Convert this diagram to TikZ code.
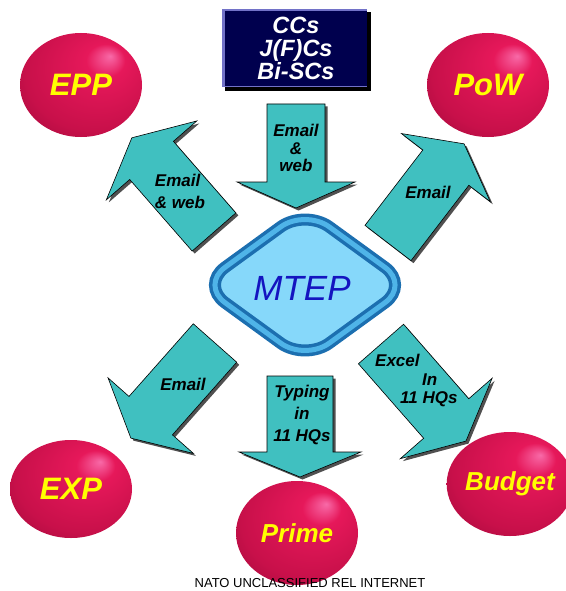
\documentclass[tikz,border=0pt]{standalone}
\usepackage{fontspec}
\setmainfont{Liberation Sans}
\usetikzlibrary{shapes.geometric,calc}
\definecolor{arrteal}{HTML}{40C0C0}
\definecolor{arrshade}{HTML}{505050}
\definecolor{navybox}{HTML}{00004E}
\definecolor{purpleedge}{HTML}{7272C8}
\definecolor{ballhi}{HTML}{F86AA8}
\definecolor{ballmid}{HTML}{E6185A}
\definecolor{ballmain}{HTML}{C8104A}
\definecolor{balldark}{HTML}{8C0632}
\definecolor{mtepfill}{HTML}{86D8FA}
\definecolor{banddark}{HTML}{1C6FB0}
\definecolor{bandlight}{HTML}{4FB4E8}
\definecolor{mteptext}{HTML}{1414C0}
\definecolor{ballyellow}{HTML}{FFFF00}
\pgfdeclareradialshading{ballshade}{\pgfpoint{12bp}{14bp}}{color(0bp)=(ballhi); color(8bp)=(ballmid); color(28bp)=(ballmain); color(46bp)=(balldark); color(50bp)=(balldark)}
\tikzset{
  ball/.style={ellipse, inner sep=0pt, minimum width=122pt, minimum height=104pt,
    shading=ballshade, text=ballyellow, font=\bfseries\itshape\fontsize{31}{31}\selectfont},
  smallball/.style={ball, font=\bfseries\itshape\fontsize{26}{26}\selectfont},
  lbl/.style={inner sep=0pt, text=black, align=center},
  arrbody/.style={fill=arrteal, draw=black, line width=0.6pt, line join=miter},
  arrshadow/.style={fill=arrshade}
}
\newcommand{\blockarrow}[6]{%
  \begin{scope}[shift={(#1)}, xshift=2.5pt, yshift=-2.5pt, rotate=#2]
    \path[arrshadow] (0,-#4) -- (#3-#6,-#4) -- (#3-#6,-#5) -- (#3,0) -- (#3-#6,#5) -- (#3-#6,#4) -- (0,#4) -- cycle;
  \end{scope}
  \begin{scope}[shift={(#1)}, rotate=#2]
    \path[arrbody] (0,-#4) -- (#3-#6,-#4) -- (#3-#6,-#5) -- (#3,0) -- (#3-#6,#5) -- (#3-#6,#4) -- (0,#4) -- cycle;
  \end{scope}}
\begin{document}
\begin{tikzpicture}[x=1pt,y=-1pt]
\fill[white] (0,0) rectangle (565,591);
\useasboundingbox (0,0) rectangle (565,591);

% block arrows
\coordinate (tailtop) at (296,104);
\coordinate (tailnw) at (214,232);
\coordinate (tailne) at (388,243);
\coordinate (tailsw) at (215,343);
\coordinate (tailbot) at (300,376);
\coordinate (tailse) at (381,344);
\blockarrow{tailtop}{-90}{104}{29}{59}{26}
\blockarrow{tailnw}{131.1}{125}{29}{60}{30}
\blockarrow{tailne}{52.5}{125}{29}{56}{30}
\blockarrow{tailsw}{-131.5}{127}{29}{57}{30}
\blockarrow{tailbot}{-90}{101}{33}{61}{25}
\blockarrow{tailse}{-48.8}{129}{30}{61}{30}

% centre
\node[diamond, minimum width=210pt, minimum height=153pt, inner sep=0pt,
  rounded corners=30pt, fill=mtepfill, draw=banddark, line width=3.5pt,
  double=bandlight, double distance=5pt] (mtep) at (305,285) {};
\node[text=mteptext, font=\itshape\fontsize{35}{35}\selectfont, inner sep=0pt] (mteplbl) at (302,288) {MTEP};

% source box
\fill[black] (225,12) rectangle (371,91);
\fill[purpleedge] (222,9) rectangle (367,87);
\node[fill=navybox, minimum width=142pt, minimum height=75pt, inner sep=0pt,
  text=white, align=center, font=\bfseries\itshape\fontsize{23.5}{23}\selectfont] (src) at (296,48.5) {CCs\\J(F)Cs\\Bi-SCs};

% balls
\node[ball] (epp) at (81,85) {EPP};
\node[ball] (pow) at (488,85) {PoW};
\node[ball, minimum height=98pt] (exp) at (71,489) {EXP};
\node[smallball] (prime) at (297,533) {Prime};
\node[smallball] (budget) at (510,484) {Budget};

% arrow labels
\node[lbl, font=\bfseries\itshape\fontsize{17}{17.5}\selectfont] (ltop) at (296,148) {Email\\\&\\web};
\node[lbl, align=left, font=\bfseries\itshape\fontsize{17}{22}\selectfont] (lnw) at (180,191) {Email\\\& web};
\node[lbl, font=\bfseries\itshape\fontsize{17}{17}\selectfont] (lne) at (428,192) {Email};
\node[lbl, font=\bfseries\itshape\fontsize{17}{17}\selectfont] (lsw) at (183,384) {Email};
\node[lbl, font=\bfseries\itshape\fontsize{17}{22}\selectfont] (lbot) at (302,415) {Typing\\in\\11 HQs};
\node[lbl, align=left, anchor=north west, font=\bfseries\itshape\fontsize{17}{18.5}\selectfont] (lse) at (375,354) {Excel\\\hspace*{47pt}In\\\hspace*{25pt}11 HQs};

% footer
\node[anchor=base, inner sep=0pt, font=\fontsize{13}{13}\selectfont] (foot) at (310,587.5) {NATO UNCLASSIFIED REL INTERNET};
\end{tikzpicture}
\end{document}
